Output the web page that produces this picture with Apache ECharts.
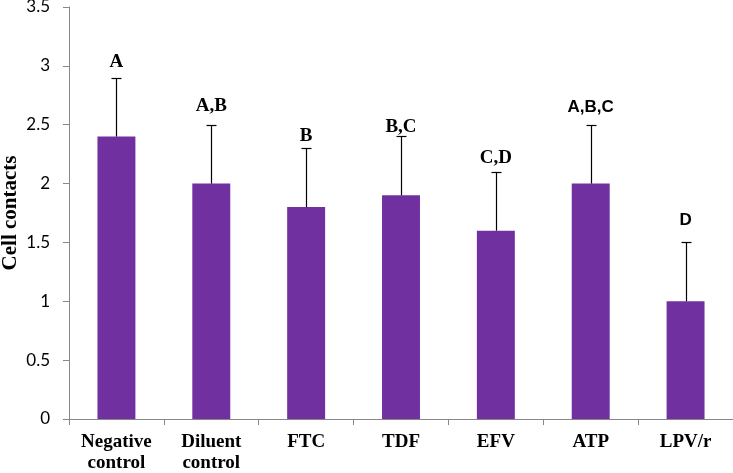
<!DOCTYPE html>
<html><head><meta charset="utf-8">
<script src="https://cdn.jsdelivr.net/npm/echarts@6/dist/echarts.min.js"></script>
<style>html,body{margin:0;padding:0;background:#fff}#c{width:733px;height:473px}</style>
</head><body><div id="c"></div>
<script>
// ---- data ----
const categories = ['Negative\ncontrol', 'Diluent\ncontrol', 'FTC', 'TDF', 'EFV', 'ATP', 'LPV/r'];
const means = [2.4, 2.0, 1.8, 1.9, 1.6, 2.0, 1.0];
const errors = [0.5, 0.5, 0.5, 0.5, 0.5, 0.5, 0.5];
const letters = ['A', 'A,B', 'B', 'B,C', 'C,D', 'A,B,C', 'D'];
const letterLevels = [3.03, 2.66, 2.40, 2.48, 2.22, 2.65, 1.69];
const yMin = 0, yMax = 3.5, yStep = 0.5;
const yTitle = 'Cell contacts';

// ---- style ----
const sansLetterIdx = [5, 6];
const serif = '"Liberation Serif", "Times New Roman", serif';
const sans = '"Liberation Sans", Arial, sans-serif';

const chart = echarts.init(document.getElementById('c'), null, {renderer: 'canvas'});
const errData = means.map((m, i) => [i, m, m + errors[i]]);
const letterData = letters.map((t, i) => [i, letterLevels[i], t]);

chart.setOption({
  animation: false,
  backgroundColor: '#fff',
  grid: {left: 69, right: 0, top: 7, bottom: 54, containLabel: false, outerBoundsMode: 'none'},
  xAxis: {
    type: 'category',
    data: categories,
    axisLine: {lineStyle: {color: '#888', width: 1}},
    axisTick: {show: true, length: 6, lineStyle: {color: '#888'}},
    axisLabel: {
      interval: 0, margin: 13, color: '#000', hideOverlap: false,
      fontFamily: serif, fontWeight: 'bold', fontSize: 19, lineHeight: 21
    }
  },
  yAxis: {
    type: 'value', min: yMin, max: yMax, interval: yStep,
    name: yTitle, nameLocation: 'middle', nameGap: 48, nameRotate: 90, nameMoveOverlap: false,
    nameTextStyle: {fontFamily: serif, fontWeight: 'bold', fontSize: 21, color: '#000'},
    splitLine: {show: false},
    axisLine: {show: true, lineStyle: {color: '#888', width: 1}},
    axisTick: {show: true, length: 6, lineStyle: {color: '#888'}},
    axisLabel: {margin: 19, color: '#000', fontFamily: 'Lato, sans-serif', fontSize: 17}
  },
  series: [
    {
      type: 'bar', data: means, barWidth: '40%',
      itemStyle: {color: '#7030A0'}, z: 2
    },
    {
      type: 'custom', data: errData, z: 3,
      renderItem: function (params, api) {
        const b = api.coord([api.value(0), api.value(1)]);
        const t = api.coord([api.value(0), api.value(2)]);
        const x = Math.round(b[0]) + 0.5;
        const yt = Math.round(t[1]) + 0.5;
        return {type: 'group', children: [
          {type: 'line', shape: {x1: x, y1: b[1], x2: x, y2: yt}, style: {stroke: '#000', lineWidth: 1.2}},
          {type: 'line', shape: {x1: x - 5, y1: yt, x2: x + 5, y2: yt}, style: {stroke: '#000', lineWidth: 1.2}}
        ]};
      }
    },
    {
      type: 'custom', data: letterData, z: 4,
      renderItem: function (params, api) {
        const i = params.dataIndex;
        const p = api.coord([api.value(0), api.value(1)]);
        const isSans = sansLetterIdx.indexOf(i) >= 0;
        return {type: 'text', x: p[0], y: p[1], style: {
          text: letters[i], align: 'center', verticalAlign: 'middle',
          font: 'bold ' + (isSans ? 17 : 19) + 'px ' + (isSans ? sans : serif), fill: '#000'
        }};
      }
    }
  ]
});
</script>
</body></html>
